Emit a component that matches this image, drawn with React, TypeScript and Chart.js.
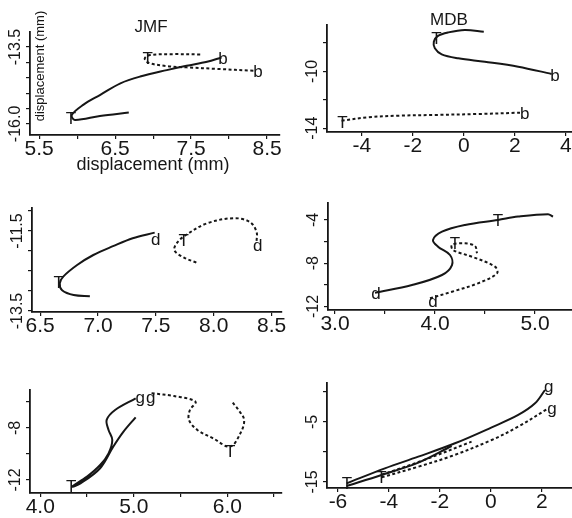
import React, { useEffect, useRef } from 'react';
import { Chart, registerables } from 'chart.js';
Chart.register(...registerables);

type Pt = [number, number];
type Mark = [string, number, number];

const FONT = '"Liberation Sans", Arial, Helvetica, sans-serif';
const INK = '#161616';

// ---------- Panel 1 (JMF, b) ----------
const p1Solid: Pt[] = [[6.68, -15.63], [6.30, -15.74], [5.97, -15.87], [5.93, -15.71], [6.08, -15.38], [6.30, -15.06], [6.57, -14.68], [6.83, -14.46], [7.18, -14.25], [7.44, -14.11], [7.71, -13.98], [7.90, -13.84]];
const p1Dashed: Pt[] = [[7.62, -13.74], [7.27, -13.73], [6.96, -13.76], [6.89, -13.87], [6.94, -14.01], [7.18, -14.12], [7.44, -14.16], [7.84, -14.21], [8.32, -14.27]];
const p1Marks: Mark[] = [['T', 5.92, -15.81], ['b', 7.92, -13.84], ['T', 6.93, -13.84], ['b', 8.38, -14.28]];
const p1XTicks = [5.5, 6.0, 6.5, 7.0, 7.5, 8.0, 8.5];
const p1XLabels = ['5.5', '', '6.5', '', '7.5', '', '8.5'];
const p1YTicks = [-13.5, -14.0, -14.5, -15.0, -15.5, -16.0];
const p1YLabels = ['-13.5', '', '', '', '', '-16.0'];

// ---------- Panel 2 (MDB, b) ----------
const p2Solid: Pt[] = [[0.78, -7.20], [0.04, -7.08], [-0.61, -7.25], [-1.03, -7.51], [-1.18, -7.91], [-1.14, -8.37], [-0.87, -8.80], [-0.22, -9.08], [0.82, -9.32], [2.13, -9.67], [3.44, -10.18]];
const p2Dashed: Pt[] = [[-4.80, -13.47], [-3.75, -13.23], [-2.58, -13.12], [-1.14, -13.07], [0.56, -13.0], [2.20, -12.91]];
const p2Marks: Mark[] = [['T', -1.08, -7.65], ['b', 3.57, -10.25], ['T', -4.76, -13.56], ['b', 2.39, -12.89]];
const p2XTicks = [-4, -2, 0, 2, 4];
const p2XLabels = ['-4', '-2', '0', '2', '4'];
const p2YTicks = [-8, -10, -12, -14];
const p2YLabels = ['', '-10', '', '-14'];

// ---------- Panel 3 (JMF, d) ----------
const p3Solid: Pt[] = [[6.93, -13.13], [6.79, -13.10], [6.69, -12.98], [6.67, -12.81], [6.70, -12.64], [6.82, -12.35], [6.96, -12.10], [7.13, -11.88], [7.30, -11.68], [7.49, -11.54]];
const p3Dashed: Pt[] = [[7.85, -12.29], [7.74, -12.16], [7.66, -11.98], [7.69, -11.77], [7.76, -11.60], [7.94, -11.31], [8.17, -11.18], [8.31, -11.27], [8.37, -11.52], [8.37, -11.77]];
const p3Marks: Mark[] = [['T', 6.66, -12.78], ['d', 7.50, -11.69], ['T', 7.74, -11.73], ['d', 8.38, -11.85]];
const p3XTicks = [6.5, 7.0, 7.5, 8.0, 8.5];
const p3XLabels = ['6.5', '7.0', '7.5', '8.0', '8.5'];
const p3YTicks = [-11.0, -11.5, -12.0, -12.5, -13.0, -13.5];
const p3YLabels = ['', '-11.5', '', '', '', '-13.5'];

// ---------- Panel 4 (MDB, d) ----------
const p4Solid: Pt[] = [[5.18, -3.69], [5.13, -3.47], [4.83, -3.69], [4.63, -4.0], [4.30, -4.46], [4.07, -5.08], [3.98, -5.85], [4.03, -6.47], [4.15, -7.24], [4.17, -8.17], [4.07, -9.09], [3.77, -10.02], [3.40, -10.73]];
const p4Dashed: Pt[] = [[3.95, -11.25], [4.17, -10.64], [4.43, -9.86], [4.62, -8.94], [4.60, -8.32], [4.37, -7.40], [4.18, -6.78], [4.17, -6.31], [4.30, -6.16], [4.40, -6.41], [4.42, -7.08]];
const p4Marks: Mark[] = [['T', 4.63, -4.0], ['d', 3.41, -10.76], ['T', 4.20, -6.13], ['d', 3.98, -11.5]];
const p4XTicks = [3.0, 3.5, 4.0, 4.5, 5.0];
const p4XLabels = ['3.0', '', '4.0', '', '5.0'];
const p4YTicks = [-4, -6, -8, -10, -12];
const p4YLabels = ['-4', '', '-8', '', '-12'];

// ---------- Panel 5 (JMF, g) ----------
const p5Solid: Pt[] = [[5.02, -5.72], [4.80, -6.62], [4.71, -7.38], [4.73, -8.15], [4.77, -8.92], [4.73, -9.95], [4.64, -10.85], [4.50, -11.74], [4.34, -12.51], [4.43, -12.26], [4.64, -11.10], [4.78, -9.44], [4.89, -8.28], [5.02, -7.18]];
const p5Dashed: Pt[] = [[5.19, -5.33], [5.43, -5.54], [5.66, -5.98], [5.60, -6.62], [5.59, -7.38], [5.68, -8.15], [5.85, -8.80], [6.03, -9.44], [6.14, -8.41], [6.18, -7.38], [6.12, -6.62], [6.05, -5.98]];
const p5Marks: Mark[] = [['T', 4.33, -12.46], ['g', 5.07, -5.85], ['g', 5.18, -5.85], ['T', 6.03, -9.77]];
const p5XTicks = [4.0, 4.5, 5.0, 5.5, 6.0, 6.5];
const p5XLabels = ['4.0', '', '5.0', '', '6.0', ''];
const p5YTicks = [-6, -8, -10, -12];
const p5YLabels = ['', '-8', '', '-12'];

// ---------- Panel 6 (MDB, g) ----------
const p6SolidA: Pt[] = [[-5.66, -15.22], [-4.16, -12.72], [-2.85, -10.78], [-1.41, -8.55], [0.03, -5.89], [1.07, -3.83], [1.73, -1.89], [2.12, 0.33]];
const p6SolidB: Pt[] = [[-5.66, -15.67], [-4.29, -13.83], [-2.85, -11.78], [-1.54, -9.0]];
const p6DashedA: Pt[] = [[-4.29, -13.8], [-2.6, -11.3], [-0.76, -8.28]];
const p6DashedB: Pt[] = [[-4.29, -14.22], [-2.85, -12.45], [-1.54, -10.67], [0.03, -8.0], [1.07, -5.78], [2.25, -2.72]];
const p6Marks: Mark[] = [['T', -5.65, -15.17], ['T', -4.29, -14.17], ['g', 2.27, 0.5], ['g', 2.39, -3.25]];
const p6XTicks = [-6, -4, -2, 0, 2];
const p6XLabels = ['-6', '-4', '-2', '0', '2'];
const p6YTicks = [0, -5, -10, -15];
const p6YLabels = ['', '-5', '', '-15'];

interface Txt { s: string; x: number; y: number; size: number; rot?: boolean }
interface PanelDef {
  lines: { pts: Pt[]; dashed: boolean }[];
  marks: Mark[];
  xr: [number, number];
  yr: [number, number];
  xTicks: number[]; xLabels: string[];
  yTicks: number[]; yLabels: string[];
  box: [number, number, number, number];
  area: [number, number, number, number];
  texts: Txt[];
}

const panels: PanelDef[] = [
  {
    lines: [{ pts: p1Solid, dashed: false }, { pts: p1Dashed, dashed: true }],
    marks: p1Marks, xr: [5.38, 8.67], yr: [-16.36, -13.01],
    xTicks: p1XTicks, xLabels: p1XLabels, yTicks: p1YTicks, yLabels: p1YLabels,
    box: [0, 0, 290, 180], area: [30, 32, 280, 135],
    texts: [
      { s: 'JMF', x: 151, y: 27, size: 17 },
      { s: 'displacement (mm)', x: 153, y: 165, size: 18 },
      { s: 'displacement (mm)', x: 40, y: 66, size: 13, rot: true },
    ],
  },
  {
    lines: [{ pts: p2Solid, dashed: false }, { pts: p2Dashed, dashed: true }],
    marks: p2Marks, xr: [-5.37, 4.24], yr: [-14.27, -6.73],
    xTicks: p2XTicks, xLabels: p2XLabels, yTicks: p2YTicks, yLabels: p2YLabels,
    box: [290, 0, 282, 180], area: [37, 25, 282, 132],
    texts: [{ s: 'MDB', x: 159, y: 20, size: 17 }],
  },
  {
    lines: [{ pts: p3Solid, dashed: false }, { pts: p3Dashed, dashed: true }],
    marks: p3Marks, xr: [6.43, 8.59], yr: [-13.525, -10.925],
    xTicks: p3XTicks, xLabels: p3XLabels, yTicks: p3YTicks, yLabels: p3YLabels,
    box: [0, 180, 290, 185], area: [32, 28, 282, 132],
    texts: [],
  },
  {
    lines: [{ pts: p4Solid, dashed: false }, { pts: p4Dashed, dashed: true }],
    marks: p4Marks, xr: [2.93, 5.37], yr: [-12.33, -2.43],
    xTicks: p4XTicks, xLabels: p4XLabels, yTicks: p4YTicks, yLabels: p4YLabels,
    box: [290, 180, 282, 185], area: [38, 23, 282, 130],
    texts: [],
  },
  {
    lines: [{ pts: p5Solid, dashed: false }, { pts: p5Dashed, dashed: true }],
    marks: p5Marks, xr: [3.89, 6.585], yr: [-13.0, -5.08],
    xTicks: p5XTicks, xLabels: p5XLabels, yTicks: p5YTicks, yLabels: p5YLabels,
    box: [0, 365, 290, 153], area: [30, 25, 282, 128],
    texts: [],
  },
  {
    lines: [
      { pts: p6SolidA, dashed: false }, { pts: p6SolidB, dashed: false },
      { pts: p6DashedA, dashed: true }, { pts: p6DashedB, dashed: true },
    ],
    marks: p6Marks, xr: [-6.43, 3.18], yr: [-16.0, 1.5],
    xTicks: p6XTicks, xLabels: p6XLabels, yTicks: p6YTicks, yLabels: p6YLabels,
    box: [290, 365, 282, 153], area: [37, 18, 282, 123],
    texts: [],
  },
];

function ChartPanel({ p }: { p: PanelDef }) {
  const ref = useRef<HTMLCanvasElement>(null);
  const [bl, bt, bw, bh] = p.box;
  useEffect(() => {
    const [al, at, ar, ab] = p.area;
    const overlay = {
      id: 'overlay',
      afterDraw(chart: any) {
        const ctx: CanvasRenderingContext2D = chart.ctx;
        const xs = chart.scales.x;
        const ys = chart.scales.y;
        const ca = chart.chartArea;
        ctx.save();
        ctx.fillStyle = INK;
        ctx.textAlign = 'center';
        ctx.textBaseline = 'middle';
        ctx.font = `16px ${FONT}`;
        p.yTicks.forEach((v, i) => {
          const s = p.yLabels[i];
          if (!s) return;
          ctx.save();
          ctx.translate(ca.left - 14, ys.getPixelForValue(v));
          ctx.rotate(-Math.PI / 2);
          ctx.fillText(s, 0, 0);
          ctx.restore();
        });
        ctx.textBaseline = 'alphabetic';
        for (const [s, x, y] of p.marks) {
          const size = 17;
          ctx.font = `${size}px ${FONT}`;
          const k = s === 'g' ? 0.16 : 0.36;
          ctx.fillText(s, xs.getPixelForValue(x), ys.getPixelForValue(y) + k * size);
        }
        ctx.textBaseline = 'middle';
        for (const t of p.texts) {
          ctx.font = `${t.size}px ${FONT}`;
          if (t.rot) {
            ctx.save();
            ctx.translate(t.x, t.y);
            ctx.rotate(-Math.PI / 2);
            ctx.fillText(t.s, 0, 0);
            ctx.restore();
          } else {
            ctx.fillText(t.s, t.x, t.y);
          }
        }
        ctx.restore();
      },
    };
    const chart = new Chart(ref.current as HTMLCanvasElement, {
      type: 'scatter',
      data: {
        datasets: p.lines.map((l) => ({
          data: l.pts.map(([x, y]) => ({ x, y })),
          showLine: true,
          borderColor: INK,
          backgroundColor: INK,
          borderWidth: 2,
          borderDash: l.dashed ? [3, 2.5] : [],
          pointRadius: 0,
          tension: 0.35,
          fill: false,
        })),
      },
      options: {
        animation: false,
        responsive: false,
        devicePixelRatio: 1,
        events: [],
        layout: { padding: { left: 0, top: at, right: bw - ar, bottom: 0 } },
        plugins: { legend: { display: false }, tooltip: { enabled: false } },
        scales: {
          x: {
            type: 'linear',
            min: p.xr[0],
            max: p.xr[1],
            afterBuildTicks: (s: any) => { s.ticks = p.xTicks.map((v) => ({ value: v })); },
            afterFit: (s: any) => { s.height = bh - ab; s.paddingLeft = 0; s.paddingRight = 0; },
            grid: { drawOnChartArea: false, drawTicks: true, tickLength: 4, color: INK, lineWidth: 1.2 },
            border: { display: true, color: INK, width: 1.8 },
            ticks: {
              autoSkip: false, maxRotation: 0, minRotation: 0, padding: -2, color: INK,
              font: { family: FONT, size: 21 },
              callback: (_v: any, i: number) => p.xLabels[i],
            },
          },
          y: {
            type: 'linear',
            min: p.yr[0],
            max: p.yr[1],
            afterBuildTicks: (s: any) => { s.ticks = p.yTicks.map((v) => ({ value: v })); },
            afterFit: (s: any) => { s.width = al; s.paddingTop = 0; s.paddingBottom = 0; },
            grid: { drawOnChartArea: false, drawTicks: true, tickLength: 4, color: INK, lineWidth: 1.2 },
            border: { display: true, color: INK, width: 1.8 },
            ticks: { display: false },
          },
        },
      },
      plugins: [overlay],
    } as any);
    return () => chart.destroy();
  }, [p]);
  return (
    <canvas
      ref={ref}
      width={bw}
      height={bh}
      style={{ position: 'absolute', left: bl, top: bt, width: bw, height: bh }}
    />
  );
}

export default function App() {
  return (
    <div style={{ position: 'fixed', left: 0, top: 0, width: 572, height: 518, background: '#fff', overflow: 'hidden' }}>
      {panels.map((p, i) => (
        <ChartPanel key={i} p={p} />
      ))}
    </div>
  );
}
